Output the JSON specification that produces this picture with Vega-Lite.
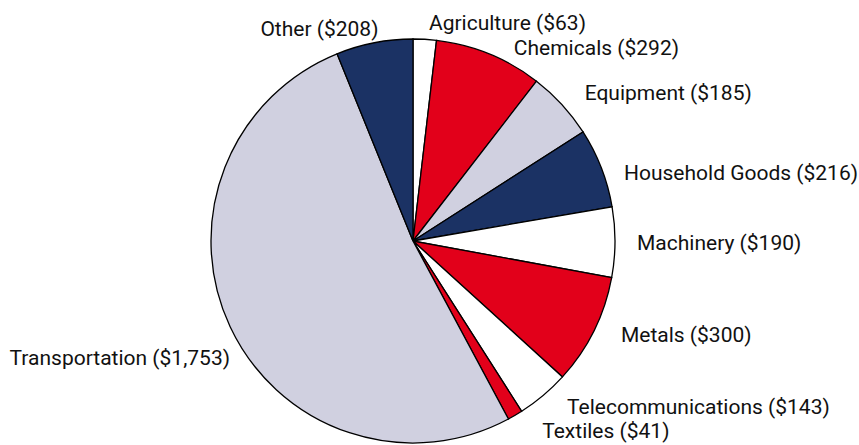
{
  "$schema": "https://vega.github.io/schema/vega-lite/v6.json",
  "width": 826,
  "height": 400,
  "autosize": {"type": "none"},
  "padding": {"left": 0, "top": 41, "right": 33, "bottom": 4},
  "background": "white",
  "data": {
    "values": [
      {"idx": 1, "category": "Agriculture", "label": "Agriculture ($63)", "value": 63, "group": "white"},
      {"idx": 2, "category": "Chemicals", "label": "Chemicals ($292)", "value": 292, "group": "red"},
      {"idx": 3, "category": "Equipment", "label": "Equipment ($185)", "value": 185, "group": "lavender"},
      {"idx": 4, "category": "Household Goods", "label": "Household Goods ($216)", "value": 216, "group": "navy"},
      {"idx": 5, "category": "Machinery", "label": "Machinery ($190)", "value": 190, "group": "white"},
      {"idx": 6, "category": "Metals", "label": "Metals ($300)", "value": 300, "group": "red"},
      {"idx": 7, "category": "Telecommunications", "label": "Telecommunications ($143)", "value": 143, "group": "white"},
      {"idx": 8, "category": "Textiles", "label": "Textiles ($41)", "value": 41, "group": "red"},
      {"idx": 9, "category": "Transportation", "label": "Transportation ($1,753)", "value": 1753, "group": "lavender"},
      {"idx": 10, "category": "Other", "label": "Other ($208)", "value": 208, "group": "navy"}
    ]
  },
  "encoding": {
    "theta": {"field": "value", "type": "quantitative", "stack": true},
    "order": {"field": "idx", "type": "quantitative"}
  },
  "layer": [
    {
      "mark": {"type": "arc", "outerRadius": 202, "stroke": "black", "strokeWidth": 1.3},
      "encoding": {
        "color": {
          "field": "group",
          "type": "nominal",
          "scale": {"domain": ["white", "red", "lavender", "navy"], "range": ["#ffffff", "#e2001a", "#d0d0e0", "#1b3264"]},
          "legend": null
        }
      }
    },
    {
      "mark": {"type": "text", "radius": 222, "align": "left", "baseline": "middle", "font": "Roboto", "fontSize": 21, "color": "#111111", "dx": 3, "dy": 5},
      "encoding": {"text": {"condition": {"test": "datum.category !== 'Agriculture'", "value": ""}, "field": "label"}}
    },
    {
      "mark": {"type": "text", "radius": 222, "align": "left", "baseline": "middle", "font": "Roboto", "fontSize": 21, "color": "#111111", "dx": 17, "dy": 14},
      "encoding": {"text": {"condition": {"test": "datum.category !== 'Chemicals'", "value": ""}, "field": "label"}}
    },
    {
      "mark": {"type": "text", "radius": 222, "align": "left", "baseline": "middle", "font": "Roboto", "fontSize": 21, "color": "#111111", "dx": 8, "dy": 3},
      "encoding": {"text": {"condition": {"test": "datum.category !== 'Equipment'", "value": ""}, "field": "label"}}
    },
    {
      "mark": {"type": "text", "radius": 222, "align": "left", "baseline": "middle", "font": "Roboto", "fontSize": 21, "color": "#111111", "dx": 4, "dy": 13},
      "encoding": {"text": {"condition": {"test": "datum.category !== 'Household Goods'", "value": ""}, "field": "label"}}
    },
    {
      "mark": {"type": "text", "radius": 222, "align": "left", "baseline": "middle", "font": "Roboto", "fontSize": 21, "color": "#111111", "dx": 2, "dy": 2},
      "encoding": {"text": {"condition": {"test": "datum.category !== 'Machinery'", "value": ""}, "field": "label"}}
    },
    {
      "mark": {"type": "text", "radius": 222, "align": "left", "baseline": "middle", "font": "Roboto", "fontSize": 21, "color": "#111111", "dx": 9, "dy": -4},
      "encoding": {"text": {"condition": {"test": "datum.category !== 'Metals'", "value": ""}, "field": "label"}}
    },
    {
      "mark": {"type": "text", "radius": 222, "align": "left", "baseline": "middle", "font": "Roboto", "fontSize": 21, "color": "#111111", "dx": 11, "dy": -3},
      "encoding": {"text": {"condition": {"test": "datum.category !== 'Telecommunications'", "value": ""}, "field": "label"}}
    },
    {
      "mark": {"type": "text", "radius": 222, "align": "left", "baseline": "middle", "font": "Roboto", "fontSize": 21, "color": "#111111", "dx": 17, "dy": -1},
      "encoding": {"text": {"condition": {"test": "datum.category !== 'Textiles'", "value": ""}, "field": "label"}}
    },
    {
      "mark": {"type": "text", "radius": 222, "align": "right", "baseline": "middle", "font": "Roboto", "fontSize": 21, "color": "#111111", "dx": 18, "dy": 24},
      "encoding": {"text": {"condition": {"test": "datum.category !== 'Transportation'", "value": ""}, "field": "label"}}
    },
    {
      "mark": {"type": "text", "radius": 222, "align": "right", "baseline": "middle", "font": "Roboto", "fontSize": 21, "color": "#111111", "dx": 8, "dy": 7},
      "encoding": {"text": {"condition": {"test": "datum.category !== 'Other'", "value": ""}, "field": "label"}}
    }
  ],
  "config": {"view": {"stroke": null}}
}
